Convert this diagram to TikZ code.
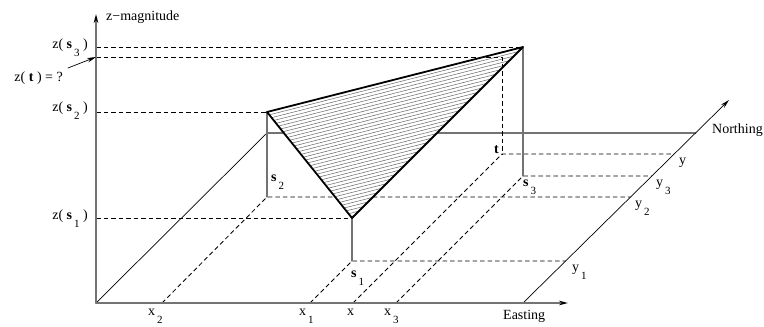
\documentclass[tikz,border=0pt]{standalone}
\usepackage{fontspec}
\setmainfont{Liberation Serif}
\usetikzlibrary{arrows.meta}

% lowered index, set apart as in the original figure
\newcommand{\lo}[1]{\hspace{2pt}\raisebox{-8.5pt}{\fontsize{11}{12}\selectfont #1}}

\begin{document}
\begin{tikzpicture}[
						x=1pt, y=-1pt,
						every node/.style={font=\fontsize{14}{16}\selectfont, inner sep=0pt},
						axis/.style={draw=black!55, line width=1.5pt},
						drop/.style={draw=black!55, line width=1.1pt},
						guide/.style={dash pattern=on 4.5pt off 3pt, line width=0.85pt, line cap=butt},
						edge/.style={line width=1.8pt},
						hatch/.style={draw=black!60, line width=0.5pt},
						tip/.style={-{Stealth[length=9pt, width=4.5pt, color=black]}},
						line cap=round,
						line join=round
						]
						
						\useasboundingbox (0,0) rectangle (764,327);
						
						% axes and ground plane
						\coordinate (O) at (96,303);
						\coordinate (zend) at (96,14);
						\coordinate (E) at (523,303);
						\coordinate (Eend) at (568,303);
						\coordinate (Nend) at (729,100);
						\coordinate (B) at (267,133);
						\coordinate (Bn) at (695.5,133);
						
						% sample points on the ground and above it
						\coordinate (s1) at (352,261);
						\coordinate (s2) at (267,197);
						\coordinate (s3) at (523,176);
						\coordinate (t) at (502,154);
						\coordinate (s1top) at (352,218);
						\coordinate (s2top) at (267,112);
						\coordinate (s3top) at (523,47);
						\coordinate (ttop) at (502,57);
						
						% feet on the Easting and Northing axes
						\coordinate (x1) at (310,303);
						\coordinate (x2) at (162,303);
						\coordinate (x) at (353,303);
						\coordinate (x3) at (396,303);
						\coordinate (y1) at (565.6,261);
						\coordinate (y2) at (630.6,197);
						\coordinate (y3) at (651.9,176);
						\coordinate (y) at (674.2,154);
						
						\draw[line width=0.7pt] (O) -- (B);
						\draw[axis] (B) -- (Bn);
						\draw[line width=0.7pt, tip] (E) -- (Nend);
						
						% ground guides
						\draw[guide] (x1) -- (s1) -- (y1);
						\draw[guide] (x2) -- (s2) -- (y2);
						\draw[guide] (x3) -- (s3) -- (y3);
						\draw[guide] (x) -- (t) -- (y);
						
						% height guides
						\draw[guide] (O |- s1top) -- (s1top);
						\draw[guide] (O |- s2top) -- (s2top);
						\draw[guide] (O |- s3top) -- (s3top);
						
						\draw[drop] (s1) -- (s1top);
						\draw[drop] (s2) -- (s2top);
						\draw[drop] (s3) -- (s3top);
						
						% interpolation plane
						\fill[white] (s2top) -- (s3top) -- (s1top) -- cycle;
						\begin{scope}
							\clip (s2top) -- (s3top) -- (s1top) -- cycle;
							\foreach \d in {0,3.4,...,132}
							\draw[hatch] (260,{113.8+\d}) -- (530,{45.2+\d});
						\end{scope}
						
						\draw[guide] (O |- ttop) -- (ttop) -- (t);
						\draw[edge] (s2top) -- (s3top) -- (s1top) -- cycle;
						
						\draw[axis, tip] (O) -- (zend);
						\draw[axis, tip] (O) -- (Eend);
						
						% labels
						\node[anchor=base west] (zlab) at (106,20) {z−magnitude};
						\node[anchor=base east] (zs3) at (88,48) {z( \textbf{s}\lo{3} )};
						\node[anchor=base east] (zs2) at (88,111) {z( \textbf{s}\lo{2} )};
						\node[anchor=base east] (zs1) at (88,219) {z( \textbf{s}\lo{1} )};
						\node[anchor=base east] (zt) at (63,81) {z( \textbf{t} ) = ?};
						\coordinate (qtail) at (68,68);
						\draw[line width=0.7pt, tip] (qtail) -- (O |- ttop);
						
						\node[anchor=base west] (ls1) at (351,277) {\textbf{s}\lo{1}};
						\node[anchor=base west] (ls2) at (271,181) {\textbf{s}\lo{2}};
						\node[anchor=base west] (ls3) at (523,186) {\textbf{s}\lo{3}};
						\node[anchor=base east] (lt) at (499,153) {\textbf{t}};
						
						\node[anchor=base west] (lx2) at (148,315) {x\lo{2}};
						\node[anchor=base west] (lx1) at (299,315) {x\lo{1}};
						\node[anchor=base west] (lx) at (347,315) {x};
						\node[anchor=base west] (lx3) at (384,315) {x\lo{3}};
						\node[anchor=base west] (leas) at (503,319) {Easting};
						
						\node[anchor=base west] (ly1) at (572,271) {y\lo{1}};
						\node[anchor=base west] (ly2) at (635,207) {y\lo{2}};
						\node[anchor=base west] (ly3) at (656,186) {y\lo{3}};
						\node[anchor=base west] (ly) at (679,164) {y};
						\node[anchor=base west] (lnor) at (712,133) {Northing};
						
					\end{tikzpicture}
\end{document}
